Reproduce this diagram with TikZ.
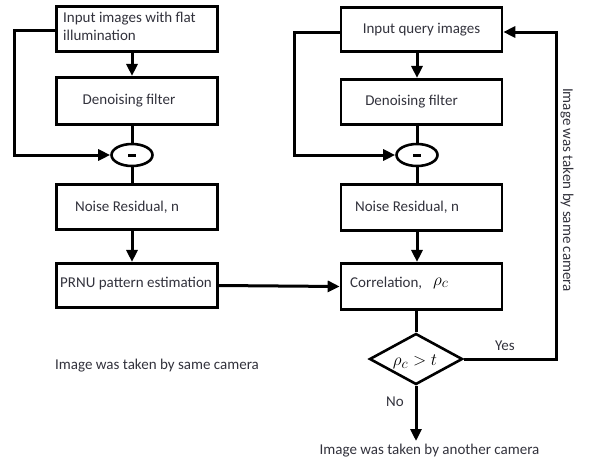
\documentclass[tikz,border=0pt]{standalone}
\usepackage{fontspec}
\setmainfont{Carlito}
\usetikzlibrary{shapes.geometric,arrows.meta}
\definecolor{txtc}{RGB}{50,50,60}
\tikzset{
  box/.style={draw, line width=2.6pt, minimum width=161pt, minimum height=45.5pt, inner sep=0pt},
  sub/.style={draw, ellipse, line width=2.6pt, minimum width=41pt, minimum height=22pt, inner sep=0pt},
  minus/.style={line width=3pt},
  dec/.style={draw, diamond, line width=2.6pt, minimum width=93pt, minimum height=51pt, inner sep=0pt},
  txt/.style={text=txtc, inner sep=0pt, font=\fontsize{15}{18}\selectfont},
  mth/.style={text=black, inner sep=0pt, font=\fontsize{19}{22}\selectfont},
  arr/.style={line width=3pt, -{Triangle[length=12pt,width=11pt]}},
  ln/.style={line width=3pt}
}
\begin{document}
\begin{tikzpicture}[x=1pt,y=-1pt]
\useasboundingbox (0,0) rectangle (596,464);

% reference branch (flat-field images)
\node[box] (b1) at (137,29) {};
\node[txt, align=left, anchor=west] (b1t) at (63,26) {Input images with flat\\illumination};
\node[box, minimum height=47.5pt] (b2) at (137,101) {};
\node[txt] (b2t) at (129,101) {Denoising filter};
\node[sub] (e1) at (132,155) {};
\draw[minus] ([xshift=-4pt]e1.center) -- ([xshift=4pt]e1.center);
\node[box] (b3) at (137,207) {};
\node[txt] (b3t) at (127,207) {Noise Residual, n};
\node[box, minimum height=44.5pt] (b4) at (137,285.5) {};
\node[txt] (b4t) at (136,284) {PRNU pattern estimation};

% query branch
\node[box, minimum height=44.5pt] (q1) at (421.5,29.5) {};
\node[txt] (q1t) at (421.5,30) {Input query images};
\node[box] (q2) at (421.5,102) {};
\node[txt] (q2t) at (411.5,102) {Denoising filter};
\node[sub] (e2) at (417,155) {};
\draw[minus] ([xshift=-4pt]e2.center) -- ([xshift=4pt]e2.center);
\node[box, minimum height=46.5pt] (q3) at (421.5,207.5) {};
\node[txt] (q3t) at (407,207) {Noise Residual, n};
\node[box, minimum height=46.5pt] (c) at (421.5,286.5) {};
\node[txt, anchor=west] (ct) at (350,283) {Correlation,};
\node[mth, anchor=west] (cm) at (433,283) {$\rho_c$};
\node[dec] (dia) at (416,359) {};
\node[mth] (diat) at (415,362) {$\rho_c > t$};

% labels
\node[txt] (yes) at (505,346) {Yes};
\node[txt] (no) at (395,402) {No};
\node[txt] (same) at (157,366) {Image was taken by same camera};
\node[txt, rotate=-90] (samer) at (567,190) {Image was taken by same camera};
\node[txt] (other) at (429.5,451) {Image was taken by another camera};
\coordinate (nend) at (416,441);

% left connectors
\coordinate (f1) at (14,30);
\draw[arr] (b1.south -| e1) -- (b2.north -| e1);
\draw[ln] (b2.south -| e1) -- (e1.north);
\draw[arr] (f1 -| b1.west) -- (f1) |- (e1.west);
\draw[ln] (e1.south) -- (b3.north -| e1);
\draw[arr] (b3.south -| e1) -- (b4.north -| e1);
\draw[arr] (b4.east) -- (c.west);

% right connectors
\coordinate (f2) at (294,32);
\draw[arr] (q1.south -| e2) -- (q2.north -| e2);
\draw[ln] (q2.south -| e2) -- (e2.north);
\draw[arr] (f2 -| q1.west) -- (f2) |- (e2.west);
\draw[ln] (e2.south) -- (q3.north -| e2);
\draw[arr] (q3.south -| e2) -- (c.north -| e2);
\draw[ln] (c.south -| dia) -- (dia.north);

% decision outputs
\coordinate (f3) at (556,32);
\draw[arr] (dia.east) -| (f3) -- (f3 -| q1.east);
\draw[arr] (dia.south) -- (nend);
\end{tikzpicture}
\end{document}
